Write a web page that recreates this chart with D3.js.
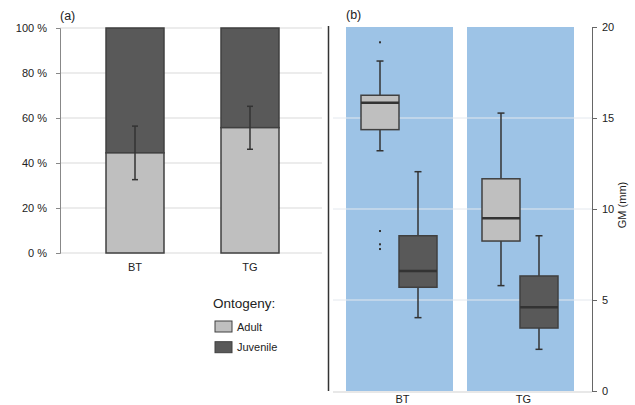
<!DOCTYPE html>
<html><head><meta charset="utf-8">
<script src="https://cdn.jsdelivr.net/npm/d3@7"></script>
<style>body{margin:0;background:#fff}svg{display:block;font-family:"Liberation Sans",Arial,sans-serif}</style>
</head><body><svg id="c" width="635" height="405"></svg>
<script>
// ---- data ----
const sites = ["BT", "TG"];
const adultPct = [44.5, 55.7];
const errLow = [32.6, 46.1];
const errHigh = [56.4, 65.2];
const pctTicks = [0, 20, 40, 60, 80, 100];
const stages = ["Adult", "Juvenile"];
// box stats: [lowWhisker, q1, median, q3, highWhisker]
const boxBT = { Adult: [13.2, 14.36, 15.84, 16.25, 18.13], Juvenile: [4.03, 5.70, 6.59, 8.53, 12.05] };
const boxTG = { Adult: [5.79, 8.24, 9.49, 11.66, 15.27], Juvenile: [2.29, 3.46, 4.60, 6.32, 8.53] };
const outBT = { Adult: [19.16, 8.79, 8.06, 7.80], Juvenile: [] };
const outTG = { Adult: [], Juvenile: [] };
const gmTicks = [0, 5, 10, 15, 20];

const colors = { Adult: "#bfbfbf", Juvenile: "#595959" };
const stroke = "#404040";
const svg = d3.select("#c");

// ---- panel (a) ----
const yA = d3.scaleLinear().domain([0, 100]).range([253, 28]);
const xA = d3.scaleBand().domain(sites).range([49, 336]).paddingInner(0.4957).paddingOuter(0.4957);
const gA = svg.append("g");
gA.selectAll("line.grid").data(pctTicks.filter(d => d > 0)).join("line")
  .attr("x1", 60).attr("x2", 322).attr("y1", d => yA(d)).attr("y2", d => yA(d))
  .attr("stroke", "#d9d9d9").attr("stroke-width", 1);
gA.append("line").attr("x1", 60).attr("x2", 322).attr("y1", yA(0)).attr("y2", yA(0)).attr("stroke", "#d9d9d9");
const axA = gA.append("g").attr("transform", "translate(60,0)")
  .call(d3.axisLeft(yA).tickValues(pctTicks).tickFormat(d => d + " %").tickSize(4).tickPadding(9));
axA.select(".domain").attr("stroke", "#888");
axA.selectAll(".tick line").attr("stroke", "#888");
axA.selectAll("text").attr("font-size", 11).attr("fill", "#222").attr("font-family", "Liberation Sans, Arial, sans-serif");

sites.forEach((s, i) => {
  const x = xA(s), w = xA.bandwidth();
  gA.append("rect").attr("x", x).attr("width", w).attr("y", yA(100)).attr("height", yA(adultPct[i]) - yA(100))
    .attr("fill", colors.Juvenile).attr("stroke", stroke).attr("stroke-width", 1.5);
  gA.append("rect").attr("x", x).attr("width", w).attr("y", yA(adultPct[i])).attr("height", yA(0) - yA(adultPct[i]))
    .attr("fill", colors.Adult).attr("stroke", stroke).attr("stroke-width", 1.5);
  const cx = x + w / 2;
  gA.append("line").attr("x1", cx).attr("x2", cx).attr("y1", yA(errLow[i])).attr("y2", yA(errHigh[i])).attr("stroke", "#333").attr("stroke-width", 1.5);
  [errLow[i], errHigh[i]].forEach(v => gA.append("line").attr("x1", cx - 3).attr("x2", cx + 3).attr("y1", yA(v)).attr("y2", yA(v)).attr("stroke", "#333").attr("stroke-width", 1.5));
  gA.append("text").attr("x", cx).attr("y", 271).attr("text-anchor", "middle").attr("font-size", 11).attr("fill", "#222").text(s);
});
svg.append("text").attr("x", 60).attr("y", 20).attr("font-size", 12.5).attr("fill", "#222").text("(a)");

// legend
const lg = svg.append("g");
lg.append("text").attr("x", 213).attr("y", 308).attr("font-size", 13.5).attr("fill", "#222").text("Ontogeny:");
stages.forEach((st, i) => {
  lg.append("rect").attr("x", 215).attr("y", 321 + i * 20.7).attr("width", 17).attr("height", 11)
    .attr("fill", colors[st]).attr("stroke", stroke).attr("stroke-width", 1);
  lg.append("text").attr("x", 237).attr("y", 330.5 + i * 20.7).attr("font-size", 11).attr("fill", "#222").text(st);
});

// ---- panel (b) ----
const yB = d3.scaleLinear().domain([0, 20]).range([391, 27]);
const xB = d3.scaleBand().domain(sites).range([346, 574]).paddingInner(0.1157).paddingOuter(0);
const xS = d3.scaleBand().domain(stages).range([15, 91]).padding(0);
const gB = svg.append("g");
svg.append("line").attr("x1", 328.5).attr("x2", 328.5).attr("y1", 26).attr("y2", 391).attr("stroke", "#333").attr("stroke-width", 1.5);
sites.forEach(s => {
  gB.append("rect").attr("x", xB(s)).attr("width", xB.bandwidth()).attr("y", yB(20)).attr("height", yB(0) - yB(20)).attr("fill", "#9dc3e6");
});
gB.selectAll("line.grid").data(gmTicks.filter(d => d > 0 && d < 20)).join("line")
  .attr("x1", 333).attr("x2", 592).attr("y1", d => yB(d)).attr("y2", d => yB(d))
  .attr("stroke", "#e3e8ee").attr("stroke-width", 1);
gB.append("line").attr("x1", 333).attr("x2", 592).attr("y1", yB(0) + 1).attr("y2", yB(0) + 1).attr("stroke", "#e0e0e0").attr("stroke-width", 1.5);

const boxes = { BT: boxBT, TG: boxTG };
const outs = { BT: outBT, TG: outTG };
sites.forEach(s => {
  stages.forEach(st => {
    const b = boxes[s][st];
    const x0 = xB(s) + xS(st), w = xS.bandwidth(), cx = x0 + w / 2;
    gB.append("line").attr("x1", cx).attr("x2", cx).attr("y1", yB(b[0])).attr("y2", yB(b[4])).attr("stroke", "#333").attr("stroke-width", 1.5);
    [b[0], b[4]].forEach(v => gB.append("line").attr("x1", cx - 3.5).attr("x2", cx + 3.5).attr("y1", yB(v)).attr("y2", yB(v)).attr("stroke", "#333").attr("stroke-width", 1.5));
    gB.append("rect").attr("x", x0).attr("width", w).attr("y", yB(b[3])).attr("height", yB(b[1]) - yB(b[3]))
      .attr("fill", colors[st]).attr("stroke", stroke).attr("stroke-width", 1.5);
    gB.append("line").attr("x1", x0).attr("x2", x0 + w).attr("y1", yB(b[2])).attr("y2", yB(b[2])).attr("stroke", "#333").attr("stroke-width", 2.5);
    outs[s][st].forEach(v => gB.append("rect").attr("x", cx - 1).attr("y", yB(v) - 1).attr("width", 2).attr("height", 2).attr("fill", "#333"));
  });
  gB.append("text").attr("x", xB(s) + xB.bandwidth() / 2 + 3).attr("y", 403).attr("text-anchor", "middle").attr("font-size", 11).attr("fill", "#222").text(s);
});
const axB = gB.append("g").attr("transform", "translate(592,0)")
  .call(d3.axisRight(yB).tickValues(gmTicks).tickSize(5).tickPadding(5));
axB.select(".domain").attr("stroke", "#666");
axB.selectAll(".tick line").attr("stroke", "#666");
axB.selectAll("text").attr("font-size", 11).attr("fill", "#222").attr("font-family", "Liberation Sans, Arial, sans-serif");
svg.append("text").attr("transform", "translate(626,205) rotate(-90)").attr("text-anchor", "middle").attr("font-size", 11).attr("fill", "#222").text("GM (mm)");
svg.append("text").attr("x", 346).attr("y", 19).attr("font-size", 12.5).attr("fill", "#222").text("(b)");
</script></body></html>
